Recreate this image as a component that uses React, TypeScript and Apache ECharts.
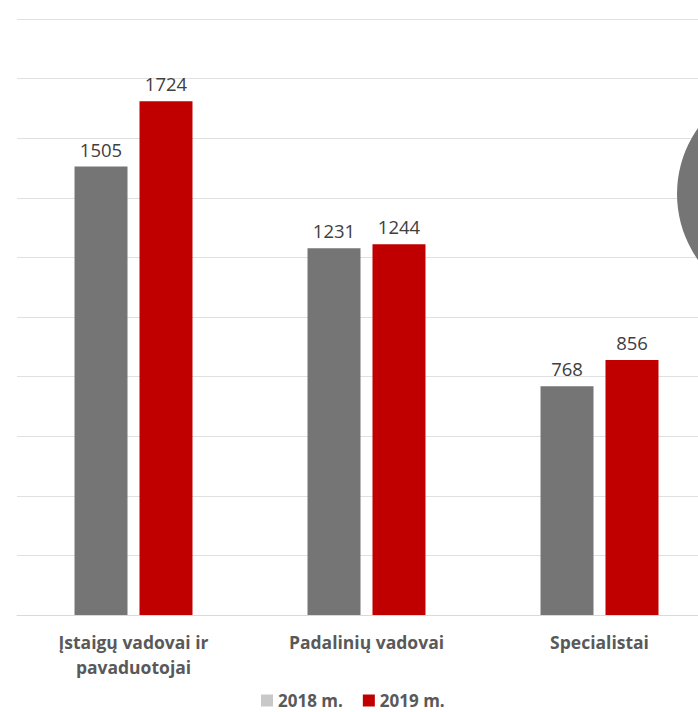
import React, { useEffect, useRef } from "react";
import * as echarts from "echarts";

const categories = ["Įstaigų vadovai ir\npavaduotojai", "Padalinių vadovai", "Specialistai"];
const seriesNames = ["2018 m.", "2019 m."];
const values2018 = [1505, 1231, 768];
const values2019 = [1724, 1244, 856];
const yMin = 0;
const yMax = 2000;
const yInterval = 200;

const FONT = "'Open Sans', 'Noto Sans', sans-serif";

export default function App() {
  const ref = useRef<HTMLDivElement>(null);
  useEffect(() => {
    if (!ref.current) return;
    const chart = echarts.init(ref.current, null, { renderer: "svg" });
    const valueLabel = {
      show: true,
      position: "top",
      distance: 8,
      fontFamily: FONT,
      fontSize: 18.5,
      color: "#404040",
    };
    chart.setOption({
      animation: false,
      backgroundColor: "#ffffff",
      grid: { left: 17, top: 19, right: 194, bottom: 97, containLabel: false },
      legend: {
        data: [
          { name: seriesNames[0], itemStyle: { color: "#c8c8c8" } },
          { name: seriesNames[1], itemStyle: { color: "#c00000" } },
        ],
        left: 261,
        top: 692,
        padding: 0,
        icon: "rect",
        itemWidth: 12,
        itemHeight: 12,
        itemGap: 20,
        textStyle: {
          fontFamily: FONT,
          fontSize: 17,
          fontWeight: "bold",
          color: "#595959",
          lineHeight: 14,
        },
      },
      xAxis: {
        type: "category",
        data: categories,
        axisLine: { show: true, lineStyle: { color: "#d9d9d9", width: 1 } },
        axisTick: { show: false },
        axisLabel: {
          interval: 0,
          margin: 14,
          fontFamily: FONT,
          fontSize: 17.5,
          fontWeight: "bold",
          color: "#595959",
          lineHeight: 25,
        },
      },
      yAxis: {
        type: "value",
        min: yMin,
        max: yMax,
        interval: yInterval,
        axisLabel: { show: false },
        axisLine: { show: false },
        axisTick: { show: false },
        splitLine: { lineStyle: { color: "#e0e0e0", width: 1 } },
      },
      series: [
        {
          name: seriesNames[0],
          type: "bar",
          data: values2018,
          barWidth: 53,
          barGap: "22.6%",
          itemStyle: { color: "#757575" },
          label: valueLabel,
        },
        {
          name: seriesNames[1],
          type: "bar",
          data: values2019,
          barWidth: 53,
          barGap: "22.6%",
          itemStyle: { color: "#c00000" },
          label: valueLabel,
        },
      ],
      graphic: [
        {
          type: "circle",
          z: 100,
          shape: { cx: 791, cy: 194, r: 114 },
          style: { fill: "#757575" },
        },
      ],
    });
    return () => chart.dispose();
  }, []);
  return (
    <div
      style={{
        position: "fixed",
        left: 0,
        top: 0,
        width: 698,
        height: 712,
        overflow: "hidden",
        background: "#ffffff",
      }}
    >
      <div ref={ref} style={{ width: 910, height: 712 }} />
    </div>
  );
}
